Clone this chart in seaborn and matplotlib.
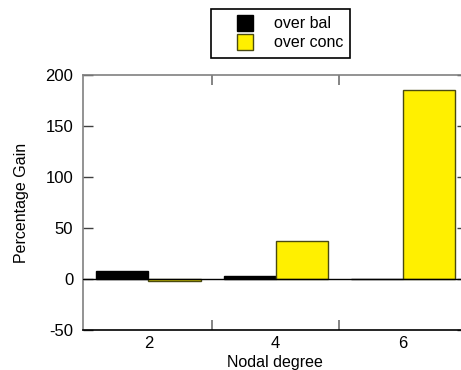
import matplotlib
matplotlib.use("Agg")
import matplotlib.pyplot as plt
from matplotlib.lines import Line2D
import pandas as pd
import seaborn as sns

# Percentage gain per nodal degree
degrees = ["2", "4", "6"]
over_bal = [7.5, 2.5, 0.0]
over_conc = [-2.0, 37.0, 185.5]
series_names = ["over bal", "over conc"]
y_ticks = [-50, 0, 50, 100, 150, 200]

df = pd.DataFrame({
    "degree": degrees * 2,
    "gain": over_bal + over_conc,
    "series": [series_names[0]] * len(degrees) + [series_names[1]] * len(degrees),
})

sns.set_style("white")
plt.rcParams["font.family"] = ["Liberation Sans", "DejaVu Sans"]
plt.rcParams["text.color"] = "black"
plt.rcParams["axes.labelcolor"] = "black"
plt.rcParams["xtick.labelcolor"] = "black"
plt.rcParams["ytick.labelcolor"] = "black"

W, H = 461, 370
fig = plt.figure(figsize=(W / 100, H / 100), dpi=100)
left, right, top, bottom = 83, 466.7, 75, 330
ax = fig.add_axes([left / W, 1 - bottom / H, (right - left) / W, (bottom - top) / H])

colors = {"over bal": "#000000", "over conc": "#FFF000"}
sns.barplot(data=df, x="degree", y="gain", hue="series", order=degrees,
            hue_order=series_names, palette=colors, width=0.82,
            saturation=1, ax=ax, legend=False)

edge = {"over bal": "#000000", "over conc": "#4a4a10"}
for container, name in zip(ax.containers, series_names):
    for bar in container:
        bar.set_edgecolor(edge[name])
        bar.set_linewidth(1.0)

ax.axhline(0, color="black", lw=1, zorder=5)
ax.set_xlim(-0.514, 2.5)
ax.set_ylim(-50, 200)
ax.set_yticks(y_ticks)
ax.set_yticklabels([str(t) for t in y_ticks])

# Ticks between groups, labels at group centres
ax.set_xticks([0, 1, 2])
ax.set_xticks([0.5, 1.5], minor=True)
ax.tick_params(axis="x", which="major", length=0, pad=4, labelsize=12)
ax.tick_params(axis="x", which="minor", direction="in", length=7, width=1.2,
               color="#707070", top=True, bottom=True)
ax.tick_params(axis="y", which="major", direction="in", length=7, width=1,
               color="#404040", left=True, right=True, pad=7, labelsize=12)

for side in ["left", "top", "right"]:
    ax.spines[side].set_color("#808080")
    ax.spines[side].set_linewidth(1.2)
ax.spines["bottom"].set_color("black")
ax.spines["bottom"].set_linewidth(1.2)

ax.set_xlabel("Nodal degree", fontsize=11.5, labelpad=3)
ax.set_ylabel("Percentage Gain", fontsize=11.5, labelpad=12)

handles = [
    Line2D([], [], linestyle="none", marker="s", markersize=11,
           markerfacecolor=colors[n], markeredgecolor=edge[n], markeredgewidth=1)
    for n in series_names
]
leg = fig.legend(handles, series_names, loc="upper left",
                 bbox_to_anchor=(210.7 / W, 1 - 9.3 / H), fontsize=11.5,
                 frameon=True, fancybox=False, edgecolor="black", framealpha=1,
                 borderaxespad=0, borderpad=0.45, handlelength=3.4,
                 handletextpad=0.1, labelspacing=0.25)
leg.get_frame().set_linewidth(1.2)

fig.savefig("out.png", dpi=100)
